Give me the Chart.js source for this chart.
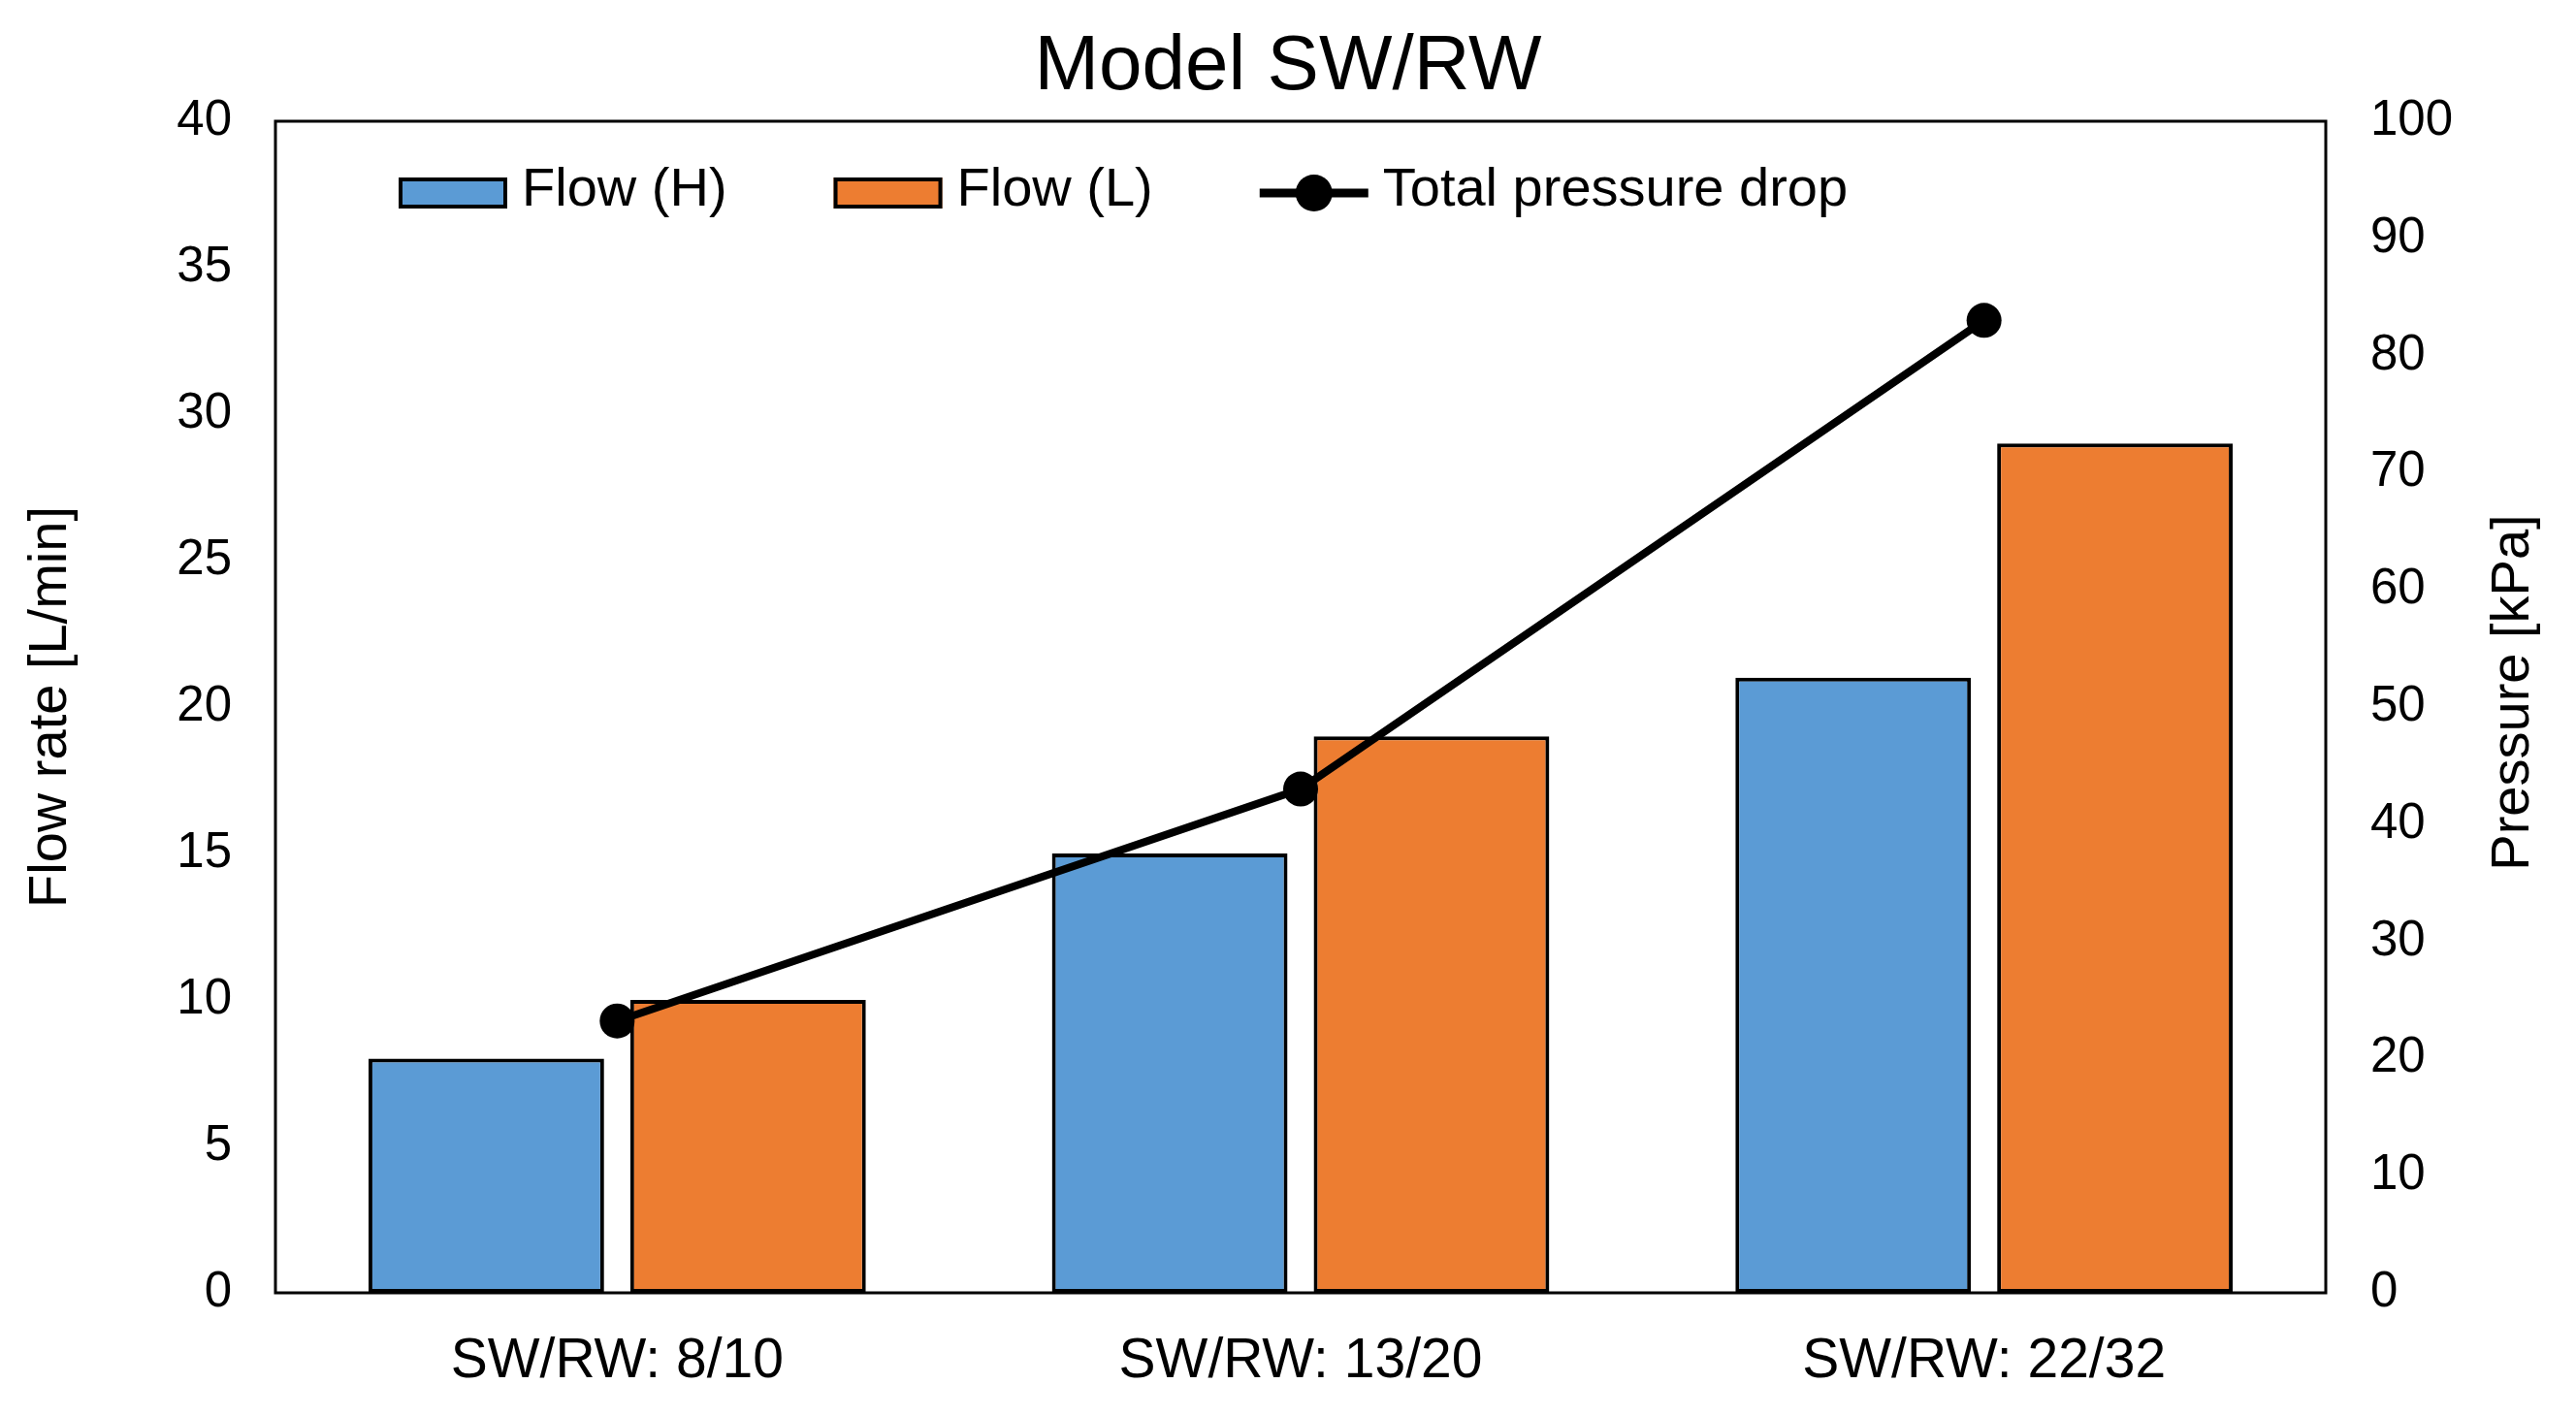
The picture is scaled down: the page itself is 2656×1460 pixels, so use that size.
<!DOCTYPE html>
<html>
<head>
<meta charset="utf-8">
<title>Model SW/RW</title>
<script src="https://cdn.jsdelivr.net/npm/chart.js@4.4.1/dist/chart.umd.min.js"></script>
<style>
  html, body { margin: 0; padding: 0; background: #fff; }
  #wrap { width: 2656px; height: 1460px; }
</style>
</head>
<body>
<div id="wrap"><canvas id="myChart" width="2656" height="1460"></canvas></div>
<script>
// values
var categories = ['SW/RW: 8/10', 'SW/RW: 13/20', 'SW/RW: 22/32'];
var flowHigh = [8, 15, 21];
var flowLow = [10, 19, 29];
var pressureDrop = [23.2, 43, 83];
// [min, max, step] of both value axes
var flowRange = [0, 40, 5];
var pressureRange = [0, 100, 10];

var FONT = '"Liberation Sans", Arial, sans-serif';
Chart.defaults.font.family = FONT;
Chart.defaults.color = '#000';

// black box round the plot area
var framePlugin = {
  id: 'frame',
  beforeDatasetsDraw: function (chart) {
    var a = chart.chartArea, ctx = chart.ctx;
    ctx.save();
    ctx.strokeStyle = '#000';
    ctx.lineWidth = 3;
    ctx.strokeRect(a.left, a.top, a.right - a.left, a.bottom - a.top);
    ctx.restore();
  }
};

// right axis title reads bottom to top, like the left one
var rightTitlePlugin = {
  id: 'rightTitle',
  afterDraw: function (chart) {
    var ctx = chart.ctx, s = chart.scales.y1;
    ctx.save();
    ctx.translate(s.right - 64, 714);
    ctx.rotate(-Math.PI / 2);
    ctx.font = '56px ' + FONT;
    ctx.fillStyle = '#000';
    ctx.textAlign = 'center';
    ctx.textBaseline = 'middle';
    ctx.fillText('Pressure [kPa]', 0, 0);
    ctx.restore();
  }
};

// legend sits inside the plot area, Excel style
var legendOrder = [0, 1, 2];
var insideLegend = {
  id: 'insideLegend',
  afterDraw: function (chart) {
    var ctx = chart.ctx;
    var x = chart.chartArea.left + 127;
    var cy = chart.chartArea.top + 74;
    ctx.save();
    ctx.font = '56px ' + FONT;
    ctx.textBaseline = 'middle';
    ctx.textAlign = 'left';
    legendOrder.forEach(function (i) {
      var ds = chart.data.datasets[i];
      if (ds.type === 'line') {
        ctx.strokeStyle = ds.borderColor;
        ctx.lineWidth = 9;
        ctx.beginPath();
        ctx.moveTo(x, cy);
        ctx.lineTo(x + 112, cy);
        ctx.stroke();
        ctx.fillStyle = ds.pointBackgroundColor;
        ctx.beginPath();
        ctx.arc(x + 56, cy, 19, 0, 2 * Math.PI);
        ctx.fill();
      } else {
        ctx.fillStyle = ds.backgroundColor;
        ctx.fillRect(x, cy - 16, 112, 32);
        ctx.strokeStyle = '#000';
        ctx.lineWidth = 4;
        ctx.strokeRect(x + 2, cy - 14, 108, 28);
      }
      x += 112 + 15;
      ctx.fillStyle = '#000';
      ctx.fillText(ds.label, x, cy - 2);
      x += ctx.measureText(ds.label).width + 110;
    });
    ctx.restore();
  }
};

var ctx = document.getElementById('myChart').getContext('2d');
var myChart = new Chart(ctx, {
  data: {
    labels: categories,
    datasets: [{
      type: 'bar',
      label: 'Flow (H)',
      data: flowHigh,
      yAxisID: 'y',
      backgroundColor: '#5B9BD5',
      borderColor: '#000',
      borderWidth: 4,
      borderSkipped: false,
      categoryPercentage: 0.766,
      barPercentage: 0.9,
      order: 1
    }, {
      type: 'bar',
      label: 'Flow (L)',
      data: flowLow,
      yAxisID: 'y',
      backgroundColor: '#ED7D31',
      borderColor: '#000',
      borderWidth: 4,
      borderSkipped: false,
      categoryPercentage: 0.766,
      barPercentage: 0.9,
      order: 1
    }, {
      type: 'line',
      label: 'Total pressure drop',
      data: pressureDrop,
      yAxisID: 'y1',
      borderColor: '#000',
      borderWidth: 8,
      pointRadius: 18,
      pointBackgroundColor: '#000',
      pointBorderWidth: 0,
      tension: 0,
      fill: false,
      clip: false,
      order: 0
    }]
  },
  options: {
    responsive: false,
    devicePixelRatio: 1,
    animation: false,
    events: [],
    layout: { padding: 0 },
    plugins: {
      legend: { display: false },
      tooltip: { enabled: false },
      title: {
        display: true,
        text: 'Model SW/RW',
        color: '#000',
        font: { size: 80, weight: 'normal', family: FONT, lineHeight: 1.2 },
        padding: { top: 22, bottom: 7 }
      }
    },
    scales: {
      x: {
        offset: true,
        grid: { display: false, drawTicks: false },
        border: { display: false },
        ticks: { color: '#000', font: { size: 57 }, padding: 37, maxRotation: 0, autoSkip: false },
        afterFit: function (s) { s.height = 127; }
      },
      y: {
        position: 'left',
        min: flowRange[0],
        max: flowRange[1],
        grid: { display: false, drawTicks: false },
        border: { display: false },
        ticks: { stepSize: flowRange[2], color: '#000', font: { size: 51 }, padding: 45 },
        title: {
          display: true,
          text: 'Flow rate [L/min]',
          color: '#000',
          font: { size: 56 },
          padding: { top: 19, bottom: 0 }
        },
        afterFit: function (s) { s.width = 284; }
      },
      y1: {
        position: 'right',
        min: pressureRange[0],
        max: pressureRange[1],
        grid: { display: false, drawTicks: false },
        border: { display: false },
        ticks: { stepSize: pressureRange[2], color: '#000', font: { size: 51 }, padding: 46 },
        afterFit: function (s) { s.width = 258; }
      }
    }
  },
  plugins: [framePlugin, rightTitlePlugin, insideLegend]
});
</script>
</body>
</html>
